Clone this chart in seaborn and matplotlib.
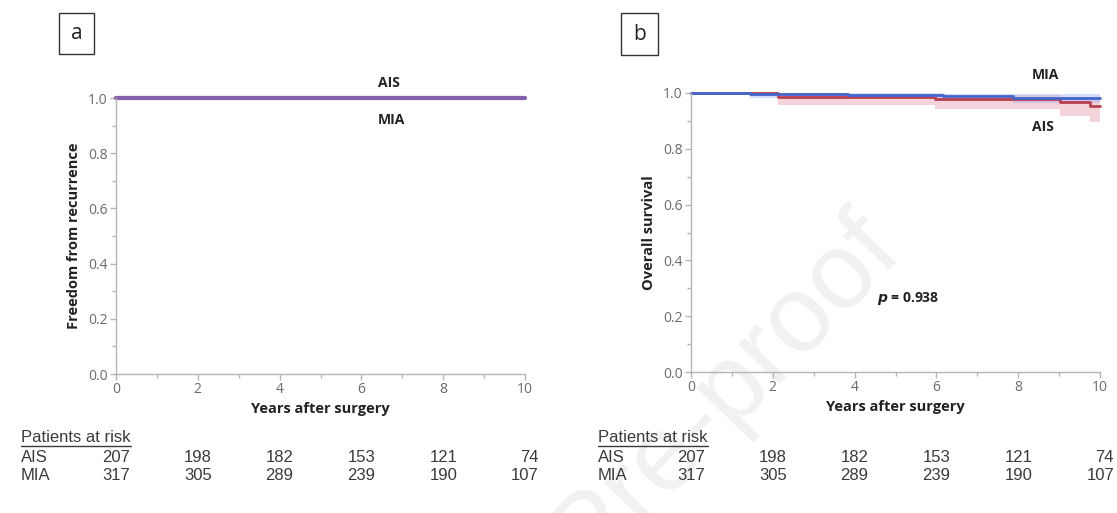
import matplotlib
matplotlib.use("Agg")
import matplotlib.pyplot as plt
import seaborn as sns
import numpy as np
from matplotlib.patches import Rectangle
from matplotlib.lines import Line2D
import matplotlib.transforms as mtransforms

# ---------------- data ----------------
years_ticks = [0, 2, 4, 6, 8, 10]
groups = ["AIS", "MIA"]

# Panel a: freedom from recurrence (no events)
rec_time = [0, 10]
rec_ais = [1.0, 1.0]
rec_mia = [1.0, 1.0]

# Panel b: overall survival (step curves)
os_mia_time = [0, 1.44, 3.84, 6.17, 7.87, 10]
os_mia = [1.0, 0.996, 0.992, 0.988, 0.981, 0.981]
os_mia_lo = [1.0, 0.982, 0.977, 0.972, 0.963, 0.963]
os_mia_hi = [1.0, 1.0, 0.999, 0.997, 0.995, 0.995]

os_ais_time = [0, 2.13, 5.97, 9.02, 9.76, 10]
os_ais = [1.0, 0.986, 0.979, 0.969, 0.952, 0.952]
os_ais_lo = [1.0, 0.958, 0.944, 0.919, 0.895, 0.895]
os_ais_hi = [1.0, 0.997, 0.993, 0.987, 0.978, 0.978]

risk_ais = [207, 198, 182, 153, 121, 74]
risk_mia = [317, 305, 289, 239, 190, 107]

p_text = "0.938"

# ---------------- style ----------------
sns.set_theme(style="white")
plt.rcParams["font.family"] = ["Open Sans", "DejaVu Sans"]

W, H = 1117, 513
fig = plt.figure(figsize=(W / 100, H / 100), dpi=100)

RED = "#b8404f"
BLUE = "#4466cc"
SPINE = "#b5b5b5"
TICKC = "#6a6a6a"


def px_axes(x0, y_top, x1, y_bot):
    return fig.add_axes([x0 / W, 1 - y_bot / H, (x1 - x0) / W, (y_bot - y_top) / H])


# watermark (faint, behind everything); position given in pixels from top-left
wm_x, wm_y_top = 905, 255
fig.text(wm_x / W, 1 - wm_y_top / H, "Journal Pre-proof", fontsize=78,
         color="#f1f1f1", rotation=46, ha="right", va="baseline",
         rotation_mode="anchor", zorder=-10, family="Liberation Sans")

axA = px_axes(116, 98, 525, 374)
axB = px_axes(691, 93, 1100, 372)


def style_axes(ax, ylabel):
    ax.set_xlim(0, 10)
    ax.set_ylim(0, 1.0)
    ax.set_facecolor("none")
    for s in ["top", "right"]:
        ax.spines[s].set_visible(False)
    for s in ["left", "bottom"]:
        ax.spines[s].set_color(SPINE)
        ax.spines[s].set_linewidth(1.0)
    ax.set_xticks(years_ticks)
    ax.set_xticks([1, 3, 5, 7, 9], minor=True)
    ax.set_yticks([0, 0.2, 0.4, 0.6, 0.8, 1.0])
    ax.set_yticks([0.1, 0.3, 0.5, 0.7, 0.9], minor=True)
    ax.set_yticklabels(["0.0", "0.2", "0.4", "0.6", "0.8", "1.0"])
    ax.tick_params(which="both", direction="out", color=SPINE, width=1,
                   labelsize=10, labelcolor=TICKC, bottom=True, left=True)
    ax.tick_params(which="major", length=4, pad=2)
    ax.tick_params(which="minor", length=3)
    ax.set_xlabel("Years after surgery", fontsize=10.5, fontweight="bold",
                  color="#222222", labelpad=3)
    ax.set_ylabel(ylabel, fontsize=10.5, fontweight="bold", color="#222222",
                  labelpad=5)


# Panel a
sns.lineplot(x=rec_time, y=rec_ais, ax=axA, color="#c04060", lw=3,
             drawstyle="steps-post", alpha=0.7, clip_on=False)
sns.lineplot(x=rec_time, y=rec_mia, ax=axA, color="#5050c0", lw=3,
             drawstyle="steps-post", alpha=0.6, clip_on=False)
style_axes(axA, "Freedom from recurrence")
axA.text(6.4, 1.055, "AIS", fontsize=10, fontweight="bold", va="center",
         color="#222222")
axA.text(6.4, 0.92, "MIA", fontsize=10, fontweight="bold", va="center",
         color="#222222")

# Panel b
axB.fill_between(os_ais_time, os_ais_lo, os_ais_hi, step="post",
                 color="#e8a0ae", alpha=0.45, lw=0)
axB.fill_between(os_mia_time, os_mia_lo, os_mia_hi, step="post",
                 color="#9fb4ee", alpha=0.45, lw=0)
sns.lineplot(x=os_ais_time, y=os_ais, ax=axB, color=RED, lw=2,
             drawstyle="steps-post", clip_on=False)
sns.lineplot(x=os_mia_time, y=os_mia, ax=axB, color=BLUE, lw=2,
             drawstyle="steps-post", clip_on=False)
style_axes(axB, "Overall survival")
axB.text(8.34, 1.065, "MIA", fontsize=10, fontweight="bold", va="center",
         color="#222222")
axB.text(8.34, 0.878, "AIS", fontsize=10, fontweight="bold", va="center",
         color="#222222")
axB.text(5.3, 0.262, r"$\boldsymbol{p}$ = " + p_text, fontsize=10,
         fontweight="bold", va="center", ha="center", color="#222222")

# panel letters in boxes
for (x0, y0, x1, y1, lab) in [(59, 13, 94, 54, "a"), (621, 13, 658, 55, "b")]:
    fig.add_artist(Rectangle((x0 / W, 1 - y1 / H), (x1 - x0) / W, (y1 - y0) / H,
                             transform=fig.transFigure, fill=False,
                             edgecolor="#333333", lw=1))
    fig.text((x0 + x1) / 2 / W, 1 - (y0 + y1) / 2 / H, lab, fontsize=15,
             ha="center", va="center", color="#222222")

# risk tables
TBL = "#3a3a3a"
FS = 12
fig.canvas.draw()
renderer = fig.canvas.get_renderer()
for ax, lx in [(axA, 21), (axB, 598)]:
    t = fig.text(lx / W, 1 - 437 / H, "Patients at risk", fontsize=FS,
                 family="Liberation Sans", color=TBL, va="center", ha="left")
    bb = t.get_window_extent(renderer=renderer)
    ly = (bb.y0 - 1) / H
    fig.add_artist(Line2D([bb.x0 / W, bb.x1 / W], [ly, ly],
                          transform=fig.transFigure, color=TBL, lw=1))
    for row_y, name, vals in [(457, "AIS", risk_ais), (476, "MIA", risk_mia)]:
        fig.text(lx / W, 1 - row_y / H, name, fontsize=FS,
                 family="Liberation Sans", color=TBL, va="center", ha="left")
        trans = mtransforms.blended_transform_factory(ax.transData, fig.transFigure)
        off = mtransforms.ScaledTranslation(14 / 100, 0, fig.dpi_scale_trans)
        for xv, v in zip(years_ticks, vals):
            fig.text(xv, 1 - row_y / H, str(v), transform=trans + off,
                     fontsize=FS, family="Liberation Sans", color=TBL,
                     va="center", ha="right")

fig.savefig("out.png", dpi=100, facecolor="white")
